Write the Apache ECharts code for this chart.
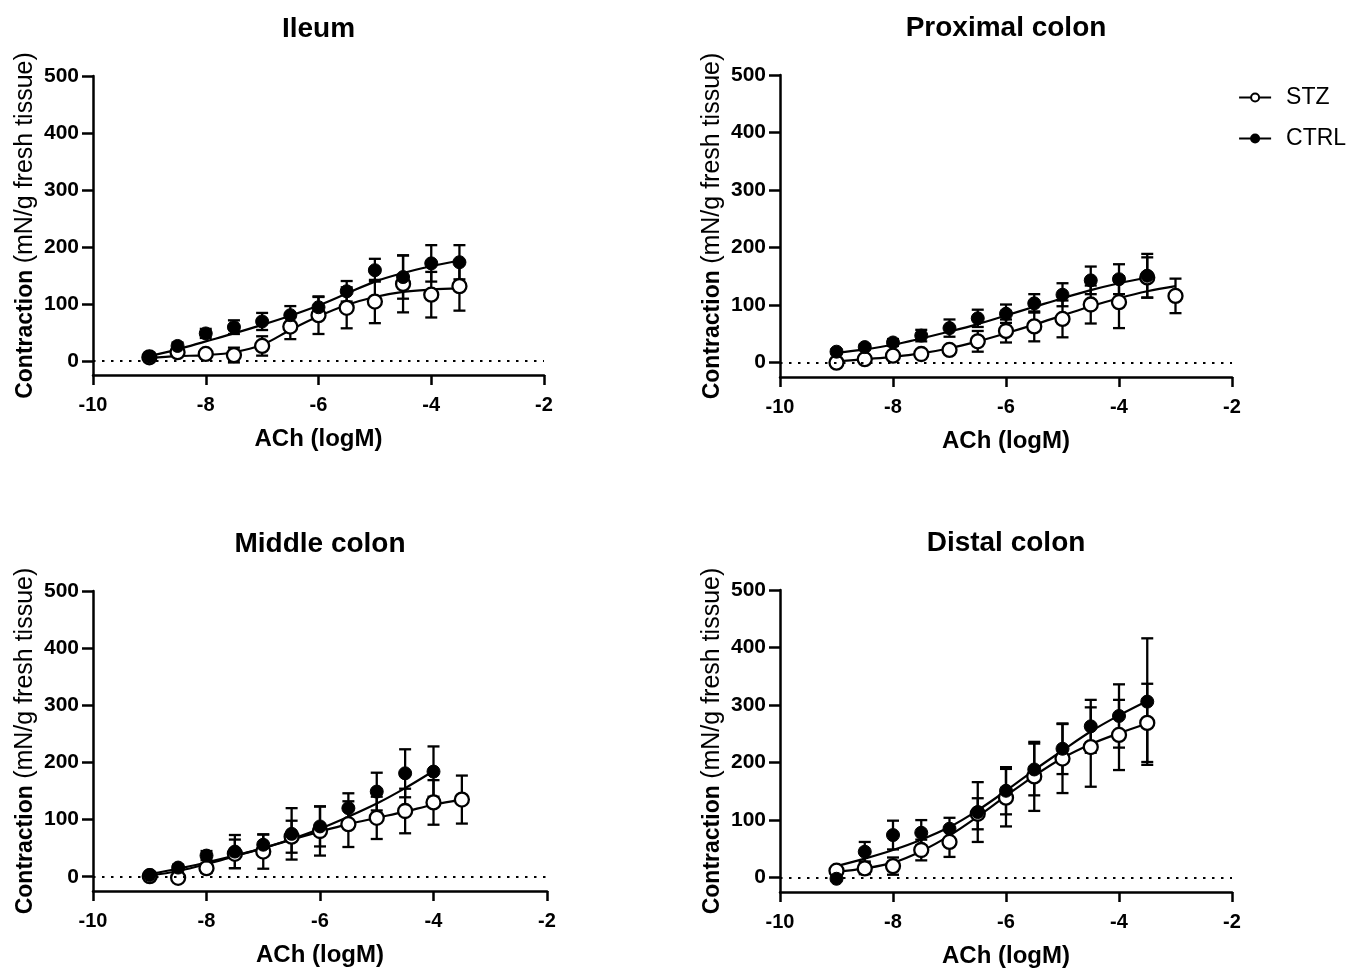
<!DOCTYPE html>
<html>
<head>
<meta charset="utf-8">
<style>html,body{margin:0;padding:0;background:#fff;}#c{width:1361px;height:972px;}</style>
<script src="https://cdn.jsdelivr.net/npm/echarts@6/dist/echarts.min.js"></script>
</head>
<body>
<div id="c"></div>
<script>
// ---------- data ----------
const panelTitles = ['Ileum', 'Proximal colon', 'Middle colon', 'Distal colon'];
const yTicks = [0, 100, 200, 300, 400, 500];
const seriesNames = ['STZ', 'CTRL'];

// Ileum
const ileumX = [-9, -8.5, -8, -7.5, -7, -6.5, -6, -5.5, -5, -4.5, -4, -3.5];
const ileumCtrl = [7, 26, 48, 59, 69, 80, 94, 122, 159, 147, 171, 173];
const ileumCtrlErr = [3, 6, 8, 12, 15, 16, 18, 18, 20, 38, 32, 30];
const ileumStz = [6, 15, 12, 10, 26, 60, 80, 93, 104, 135, 116, 131];
const ileumStzErr = [3, 5, 5, 13, 17, 22, 33, 36, 38, 50, 40, 43];
const ileumCtrlFit = [8, 20, 34, 48, 63, 79, 97, 118, 139, 154, 166, 176];
const ileumStzFit = [5, 8, 10, 15, 28, 54, 78, 98, 112, 121, 125, 127];

// Proximal colon
const proxCtrlX = [-9, -8.5, -8, -7.5, -7, -6.5, -6, -5.5, -5, -4.5, -4, -3.5];
const proxStzX = [-9, -8.5, -8, -7.5, -7, -6.5, -6, -5.5, -5, -4.5, -4, -3.5, -3];
const proxCtrl = [19, 27, 35, 47, 60, 77, 85, 103, 118, 143, 145, 151];
const proxCtrlErr = [4, 5, 6, 10, 15, 15, 16, 16, 20, 24, 26, 38];
const proxStz = [0, 6, 12, 15, 22, 37, 55, 63, 76, 101, 105, 148, 116];
const proxStzErr = [3, 4, 5, 5, 6, 18, 20, 26, 32, 33, 45, 35, 30];
const proxCtrlFit = [17, 23, 31, 42, 54, 67, 82, 97, 112, 126, 138, 148];
const proxStzFit = [2, 6, 10, 16, 25, 37, 51, 66, 82, 98, 112, 124, 133];

// Middle colon
const midCtrlX = [-9, -8.5, -8, -7.5, -7, -6.5, -6, -5.5, -5, -4.5, -4];
const midStzX = [-9, -8.5, -8, -7.5, -7, -6.5, -6, -5.5, -5, -4.5, -4, -3.5];
const midCtrl = [3, 16, 37, 44, 56, 75, 88, 120, 149, 181, 184];
const midCtrlErr = [3, 5, 8, 29, 18, 45, 35, 26, 33, 42, 44];
const midStz = [1, -2, 15, 40, 44, 70, 80, 92, 103, 115, 130, 135];
const midStzErr = [3, 4, 8, 25, 30, 28, 43, 40, 37, 39, 39, 42];
const midCtrlFit = [5, 14, 25, 37, 50, 66, 84, 105, 128, 155, 185];
const midStzFit = [2, 10, 22, 36, 50, 65, 79, 92, 103, 114, 126, 135];

// Distal colon
const distX = [-9, -8.5, -8, -7.5, -7, -6.5, -6, -5.5, -5, -4.5, -4, -3.5];
const distCtrl = [-2, 45, 74, 78, 85, 114, 151, 188, 224, 263, 281, 306];
const distCtrlErr = [3, 17, 25, 22, 19, 52, 41, 45, 44, 46, 55, 110];
const distStz = [12, 16, 20, 48, 62, 111, 139, 176, 207, 227, 248, 269];
const distStzErr = [4, 10, 15, 18, 26, 27, 50, 60, 60, 69, 61, 68];
const distCtrlFit = [20, 33, 48, 66, 88, 117, 151, 187, 221, 254, 282, 307];
const distStzFit = [10, 16, 26, 46, 73, 106, 142, 177, 208, 232, 251, 268];

// ---------- build ----------
const panels = [
  {stzX: ileumX, stz: ileumStz, stzErr: ileumStzErr, stzFit: ileumStzFit,
   ctrlX: ileumX, ctrl: ileumCtrl, ctrlErr: ileumCtrlErr, ctrlFit: ileumCtrlFit},
  {stzX: proxStzX, stz: proxStz, stzErr: proxStzErr, stzFit: proxStzFit,
   ctrlX: proxCtrlX, ctrl: proxCtrl, ctrlErr: proxCtrlErr, ctrlFit: proxCtrlFit},
  {stzX: midStzX, stz: midStz, stzErr: midStzErr, stzFit: midStzFit,
   ctrlX: midCtrlX, ctrl: midCtrl, ctrlErr: midCtrlErr, ctrlFit: midCtrlFit},
  {stzX: distX, stz: distStz, stzErr: distStzErr, stzFit: distStzFit,
   ctrlX: distX, ctrl: distCtrl, ctrlErr: distCtrlErr, ctrlFit: distCtrlFit}
];

const FONT = '"Liberation Sans", Arial, Helvetica, sans-serif';
const grids = [
  {left: 93, top: 76, width: 451, height: 299},
  {left: 780, top: 75, width: 452, height: 302},
  {left: 93, top: 591, width: 454, height: 300},
  {left: 780, top: 590, width: 452, height: 302}
];

const zip = (xs, ys) => xs.map((x, i) => [x, ys[i]]);
const zip3 = (xs, ys, es) => xs.map((x, i) => [x, ys[i], es[i]]);

function errRender(params, api) {
  const x = api.value(0), y = api.value(1), e = api.value(2);
  const t = api.coord([x, y + e]);
  const b = api.coord([x, y - e]);
  const hw = 6;
  const style = {stroke: '#000', lineWidth: 2.3};
  return {type: 'group', children: [
    {type: 'line', shape: {x1: t[0], y1: t[1], x2: b[0], y2: b[1]}, style: style},
    {type: 'line', shape: {x1: t[0] - hw, y1: t[1], x2: t[0] + hw, y2: t[1]}, style: style},
    {type: 'line', shape: {x1: b[0] - hw, y1: b[1], x2: b[0] + hw, y2: b[1]}, style: style}
  ]};
}

const xAxes = [], yAxes = [], series = [], titles = [];
grids.forEach((g, i) => {
  titles.push({
    text: panelTitles[i], left: g.left + g.width / 2 - 5, top: g.top - 66, textAlign: 'center',
    textStyle: {fontFamily: FONT, fontSize: 28, fontWeight: 'bold', color: '#000'}
  });
  xAxes.push({
    gridIndex: i, type: 'value', min: -10, max: -2, interval: 2,
    name: 'ACh (logM)', nameLocation: 'middle', nameGap: 52,
    nameTextStyle: {fontFamily: FONT, fontSize: 24, fontWeight: 'bold', color: '#000'},
    axisLine: {onZero: false, lineStyle: {color: '#000', width: 2.5}},
    axisTick: {length: 10, lineStyle: {color: '#000', width: 2.5}},
    axisLabel: {margin: 20, fontFamily: FONT, fontSize: 20, fontWeight: 'bold', color: '#000'},
    splitLine: {show: false}
  });
  yAxes.push({
    gridIndex: i, type: 'value', min: -25, max: 500,
    name: '{b|Contraction} {n|(mN/g fresh tissue)}', nameLocation: 'middle', nameGap: 55, nameRotate: 90,
    nameTextStyle: {fontFamily: FONT, fontSize: 23, color: '#000',
      rich: {b: {fontFamily: FONT, fontSize: 23, fontWeight: 'bold', color: '#000'},
             n: {fontFamily: FONT, fontSize: 25, color: '#000'}}},
    axisLine: {show: true, onZero: false, lineStyle: {color: '#000', width: 2.5}},
    axisTick: {show: true, length: 11, customValues: yTicks, lineStyle: {color: '#000', width: 2.5}},
    axisLabel: {margin: 14, customValues: yTicks, fontFamily: FONT, fontSize: 21, fontWeight: 'bold', color: '#000'},
    splitLine: {show: false}
  });
  const p = panels[i];
  // fitted curves
  series.push({
    type: 'line', name: 'STZ fit', xAxisIndex: i, yAxisIndex: i, data: zip(p.stzX, p.stzFit),
    smooth: 0.35, symbol: 'none', lineStyle: {color: '#000', width: 2.2}, z: 2, silent: true,
    markLine: {silent: true, symbol: 'none', label: {show: false},
      lineStyle: {color: '#000', type: [2.5, 6.5], width: 2.2}, data: [{yAxis: 0}]}
  });
  series.push({
    type: 'line', name: 'CTRL fit', xAxisIndex: i, yAxisIndex: i, data: zip(p.ctrlX, p.ctrlFit),
    smooth: 0.35, symbol: 'none', lineStyle: {color: '#000', width: 2.2}, z: 2, silent: true
  });
  // error bars
  series.push({type: 'custom', xAxisIndex: i, yAxisIndex: i, renderItem: errRender,
    encode: {x: 0, y: 1}, data: zip3(p.ctrlX, p.ctrl, p.ctrlErr), z: 3, silent: true});
  series.push({type: 'custom', xAxisIndex: i, yAxisIndex: i, renderItem: errRender,
    encode: {x: 0, y: 1}, data: zip3(p.stzX, p.stz, p.stzErr), z: 3, silent: true});
  // points
  series.push({
    type: 'line', name: seriesNames[0], xAxisIndex: i, yAxisIndex: i, data: zip(p.stzX, p.stz),
    symbol: 'circle', symbolSize: 14, showAllSymbol: true,
    itemStyle: {color: '#fff', borderColor: '#000', borderWidth: 2.3},
    lineStyle: {opacity: 0, width: 0}, z: 4
  });
  series.push({
    type: 'line', name: seriesNames[1], xAxisIndex: i, yAxisIndex: i, data: zip(p.ctrlX, p.ctrl),
    symbol: 'circle', symbolSize: 13, showAllSymbol: true,
    itemStyle: {color: '#000', borderColor: '#000', borderWidth: 1},
    lineStyle: {opacity: 0, width: 0}, z: 5
  });
});

const chart = echarts.init(document.getElementById('c'), null, {renderer: 'canvas'});
chart.setOption({
  animation: false,
  backgroundColor: '#fff',
  title: titles,
  legend: {
    data: seriesNames, orient: 'vertical', left: 1233, top: 81, itemGap: 18,
    itemWidth: 32, itemHeight: 10,
    lineStyle: {color: '#000', width: 2.2, opacity: 1},
    textStyle: {fontFamily: FONT, fontSize: 23, color: '#000', padding: [0, 0, 0, 10]}
  },
  grid: grids,
  xAxis: xAxes,
  yAxis: yAxes,
  series: series
});
</script>
</body>
</html>
